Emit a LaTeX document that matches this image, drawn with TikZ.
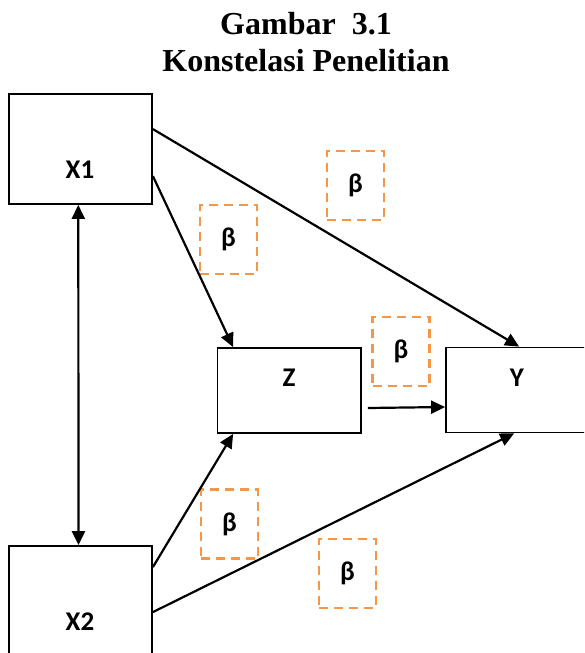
\documentclass[tikz,border=0pt]{standalone}
\usepackage{fontspec}
\setmainfont{Liberation Serif}
\newfontfamily\lblfont{Carlito}
\usetikzlibrary{arrows.meta,calc}
\definecolor{betaorange}{RGB}{247,150,70}
\begin{document}
\begin{tikzpicture}[x=1pt,y=-1pt,
  varbox/.style={draw=black,line width=1.8pt,rectangle,inner sep=0pt,fill=none},
  varlabel/.style={font=\lblfont\bfseries\fontsize{27}{30}\selectfont,inner sep=0pt},
  betabox/.style={draw=betaorange,line width=2.4pt,dash pattern=on 9pt off 6pt,
    rectangle,minimum width=57pt,minimum height=69pt,inner sep=0pt,
    font=\lblfont\bfseries\fontsize{27}{30}\selectfont},
  titletext/.style={font=\bfseries\fontsize{32}{37}\selectfont,align=center,inner sep=0pt},
  conn/.style={line width=2.2pt,-{Triangle[length=14pt,width=13pt]}},
  biconn/.style={line width=2.2pt,{Triangle[length=14pt,width=13pt]}-{Triangle[length=14pt,width=13pt]}}
]
\useasboundingbox (0,0) rectangle (584,653);
\clip (0,0) rectangle (584,653);
% title
\node[titletext] (title) at (306,42) {Gambar\ \ 3.1\\Konstelasi Penelitian};
% boxes
\node[varbox,minimum width=143.4pt,minimum height=110pt] (x1) at (80.3,149) {};
\node[varbox,minimum width=143pt,minimum height=115pt] (x2) at (80.5,603.5) {};
\node[varbox,minimum width=143.5pt,minimum height=85pt] (z) at (289.25,390.5) {};
\node[varbox,minimum width=144pt,minimum height=85pt] (y) at (518,390) {};
% labels
\node[varlabel] (lx1) at (80,170) {X1};
\node[varlabel] (lx2) at (80,622) {X2};
\node[varlabel] (lz) at (289,378) {Z};
\node[varlabel] (ly) at (517,378) {Y};
% beta boxes
\node[betabox] (b1) at (355.5,185.5) {β};
\node[betabox] (b2) at (228.5,239.5) {β};
\node[betabox] (b3) at (401,351.5) {β};
\node[betabox] (b4) at (229.5,524) {β};
\node[betabox] (b5) at (347.5,573.5) {β};
% connectors
\draw[conn] ([yshift=-36pt]x1.north east) -- ([xshift=74pt]y.north west);
\draw[conn] ([yshift=-83pt]x1.north east) -- ([xshift=16.5pt]z.north west);
\draw[biconn] ([xshift=-2pt]x1.south) -- ([xshift=-2pt]x2.north);
\draw[conn] ([xshift=6pt,yshift=-17.5pt]z.east) -- ([yshift=-17pt]y.west);
\draw[conn] ([yshift=-22pt]x2.north east) -- ([xshift=16.5pt]z.south west);
\draw[conn] ([yshift=-67pt]x2.north east) -- ([xshift=69pt]y.south west);
\end{tikzpicture}
\end{document}
